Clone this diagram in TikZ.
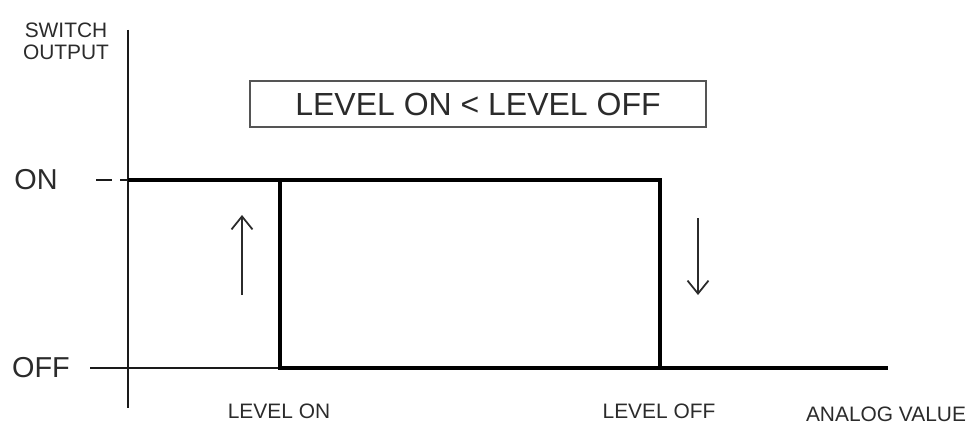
\documentclass[tikz,border=0pt]{standalone}
\usepackage{fontspec}
\setmainfont{Liberation Sans}
\usetikzlibrary{arrows.meta,positioning}
\definecolor{ink}{HTML}{2B2B2B}
\definecolor{axis}{HTML}{1A1A1A}
\definecolor{frame}{HTML}{555555}
\tikzset{
  lbl/.style={text=ink, inner sep=0pt, align=center},
  thinline/.style={draw=axis, line width=0.8pt},
  thickline/.style={draw=black, line width=2.8pt, line join=miter},
  hint/.style={-{Straight Barb[length=2.6mm, width=4.2mm]}, draw=ink, line width=1pt}
}
\begin{document}
\begin{tikzpicture}[
        small/.style={lbl, font=\fontsize{11.9}{12.6}\selectfont},
        level/.style={lbl, font=\fontsize{16.4}{18}\selectfont},
        banner/.style={draw=frame, line width=0.8pt, minimum width=9.12cm, minimum height=0.92cm,
          inner sep=0pt, text=ink, font=\fontsize{18.2}{20}\selectfont}
      ]
        \useasboundingbox (0,0) rectangle (19.4,8.54);
        % axes
        \coordinate (ytop) at (2.56,7.94);
        \coordinate (ybot) at (2.56,0.38);
        \coordinate (ontick) at (1.92,4.94);
        \coordinate (offtick) at (1.8,1.18);
        \coordinate (onaxis) at (2.56,4.94);
        \coordinate (lvlon) at (5.6,1.18);
        \draw[thinline] (ytop) -- (ybot);
        \draw[thinline, dash pattern=on 0.32cm off 0.16cm] (ontick) -- (onaxis);
        \draw[thinline] (offtick) -- (lvlon);
        % hysteresis loop
        \coordinate (lvlontop) at (5.6,4.94);
        \coordinate (lvlofftop) at (13.2,4.94);
        \coordinate (lvloff) at (13.2,1.18);
        \coordinate (xend) at (17.76,1.18);
        \draw[thickline] (onaxis) -- (lvlofftop) -- (lvloff);
        \draw[thickline] (lvlontop) -- (lvlon) -- (xend);
        % direction hints
        \coordinate (upfrom) at (4.84,2.64);
        \coordinate (upto) at (4.84,4.24);
        \coordinate (downfrom) at (13.96,4.18);
        \coordinate (downto) at (13.96,2.64);
        \draw[hint] (upfrom) -- (upto);
        \draw[hint] (downfrom) -- (downto);
        % labels
        \node[banner] (cond) at (9.56,6.46) {LEVEL ON < LEVEL OFF};
        \node[small] (yname) at (1.32,7.72) {SWITCH\\OUTPUT};
        \node[level] (on) at (0.72,4.94) {ON};
        \node[level] (off) at (0.82,1.18) {OFF};
        \node[small] (onlbl) at (5.58,0.32) {LEVEL ON};
        \node[small] (offlbl) at (13.18,0.32) {LEVEL OFF};
        \node[small] (xname) at (17.72,0.26) {ANALOG VALUE};
      \end{tikzpicture}
\end{document}
